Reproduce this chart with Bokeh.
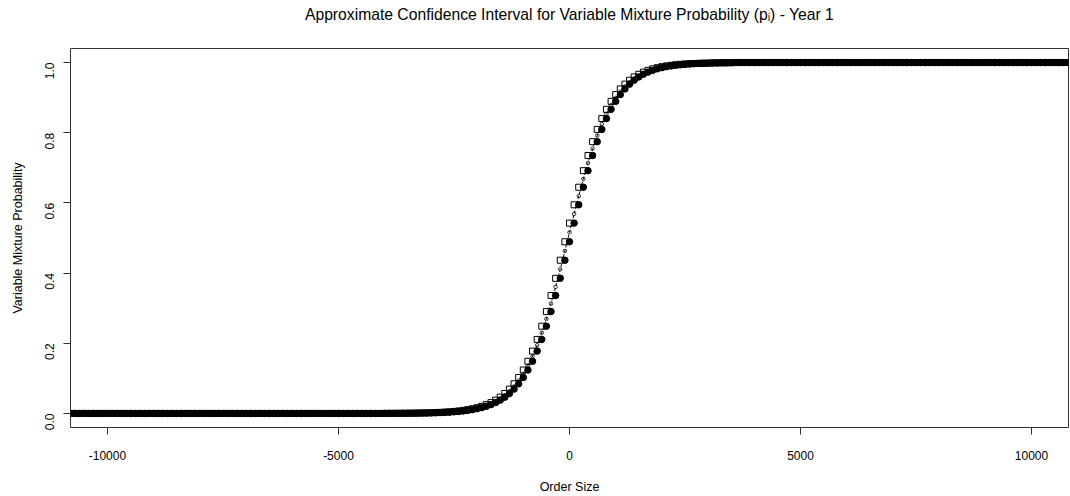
import math
from bokeh.plotting import figure
from bokeh.models import FixedTicker, Range1d, PrintfTickFormatter, ColumnDataSource, Title
from bokeh.embed import file_html
from bokeh.resources import INLINE

# ---------------- data ----------------
title_text = "Approximate Confidence Interval for Variable Mixture Probability (pᵢ) - Year 1"
x_label = "Order Size"
y_label = "Variable Mixture Probability"
x_ticks = [-10000, -5000, 0, 5000, 10000]
y_ticks = [0.0, 0.2, 0.4, 0.6, 0.8, 1.0]

# order sizes: -10800 ... 10800 in steps of 100
order_size = list(range(-10800, 10801, 100))

# flat parts of the curves (x = -10800 ... -4100 and x = 3600 ... 10800)
flat_zero = [
    0, 0, 0, 0, 0, 0, 0, 0, 0, 0,
    0, 0, 0, 0, 0, 0, 0, 0, 0, 0,
    0, 0, 0, 0, 0, 0, 0, 0, 0, 0,
    0, 0, 0, 0, 0, 0, 0, 0, 0, 0,
    0, 0, 0, 0, 0, 0, 0, 0, 0, 0,
    0, 0, 0, 0, 0, 0, 0, 0, 0, 0,
    0, 0, 0, 0, 0, 0, 0, 0,
]
flat_one = [
    1, 1, 1, 1, 1, 1, 1, 1, 1, 1,
    1, 1, 1, 1, 1, 1, 1, 1, 1, 1,
    1, 1, 1, 1, 1, 1, 1, 1, 1, 1,
    1, 1, 1, 1, 1, 1, 1, 1, 1, 1,
    1, 1, 1, 1, 1, 1, 1, 1, 1, 1,
    1, 1, 1, 1, 1, 1, 1, 1, 1, 1,
    1, 1, 1, 1, 1, 1, 1, 1, 1, 1,
    1, 1, 1,
]

# transition region x = -4000 ... 3500 (step 100)
upper_mid = [
    0.0002, 0.0003, 0.0004, 0.0005, 0.0006, 0.0007, 0.0009, 0.0011, 0.0013, 0.0016,
    0.0020, 0.0025, 0.0031, 0.0038, 0.0047, 0.0058, 0.0071, 0.0088, 0.0109, 0.0134,
    0.0165, 0.0204, 0.0251, 0.0309, 0.0379, 0.0465, 0.0569, 0.0694, 0.0845, 0.1025,
    0.1238, 0.1487, 0.1777, 0.2110, 0.2486, 0.2903, 0.3361, 0.3851, 0.4366, 0.4893,
    0.5424, 0.5946, 0.6447, 0.6919, 0.7352, 0.7745, 0.8095, 0.8403, 0.8667, 0.8894,
    0.9087, 0.9249, 0.9384, 0.9496, 0.9589, 0.9665, 0.9727, 0.9778, 0.9820, 0.9854,
    0.9882, 0.9904, 0.9922, 0.9937, 0.9949, 0.9959, 0.9967, 0.9973, 0.9978, 0.9982,
    0.9986, 0.9989, 0.9991, 0.9992, 0.9994, 0.9995,
]
estimate_mid = [
    0.0002, 0.0003, 0.0004, 0.0005, 0.0006, 0.0007, 0.0008, 0.0010, 0.0012, 0.0015,
    0.0018, 0.0022, 0.0028, 0.0035, 0.0043, 0.0052, 0.0065, 0.0080, 0.0098, 0.0121,
    0.0150, 0.0184, 0.0228, 0.0280, 0.0344, 0.0422, 0.0517, 0.0632, 0.0770, 0.0935,
    0.1132, 0.1363, 0.1632, 0.1944, 0.2298, 0.2695, 0.3132, 0.3606, 0.4109, 0.4630,
    0.5159, 0.5685, 0.6197, 0.6683, 0.7136, 0.7549, 0.7920, 0.8249, 0.8535, 0.8781,
    0.8991, 0.9168, 0.9317, 0.9440, 0.9543, 0.9627, 0.9696, 0.9753, 0.9799, 0.9837,
    0.9868, 0.9893, 0.9913, 0.9930, 0.9943, 0.9954, 0.9963, 0.9970, 0.9976, 0.9980,
    0.9984, 0.9988, 0.9990, 0.9992, 0.9993, 0.9995,
]
lower_mid = [
    0.0002, 0.0002, 0.0003, 0.0004, 0.0005, 0.0006, 0.0007, 0.0009, 0.0011, 0.0013,
    0.0016, 0.0020, 0.0025, 0.0031, 0.0038, 0.0047, 0.0058, 0.0071, 0.0088, 0.0109,
    0.0134, 0.0165, 0.0204, 0.0251, 0.0309, 0.0379, 0.0465, 0.0569, 0.0694, 0.0845,
    0.1025, 0.1238, 0.1487, 0.1777, 0.2110, 0.2486, 0.2903, 0.3361, 0.3851, 0.4366,
    0.4893, 0.5424, 0.5946, 0.6447, 0.6919, 0.7352, 0.7745, 0.8095, 0.8403, 0.8667,
    0.8894, 0.9087, 0.9249, 0.9384, 0.9496, 0.9589, 0.9665, 0.9727, 0.9778, 0.9820,
    0.9854, 0.9882, 0.9904, 0.9922, 0.9937, 0.9949, 0.9959, 0.9967, 0.9973, 0.9978,
    0.9982, 0.9986, 0.9989, 0.9991, 0.9992, 0.9994,
]

upper = flat_zero + upper_mid + flat_one
estimate = flat_zero + estimate_mid + flat_one
lower = flat_zero + lower_mid + flat_one

source = ColumnDataSource(dict(x=order_size, upper=upper, estimate=estimate, lower=lower))

# ---------------- figure ----------------
FONT = "Liberation Sans"
p = figure(
    width=1070, height=496,
    x_range=Range1d(-10800, 10800), y_range=Range1d(-0.04, 1.04),
    output_backend="svg", toolbar_location=None,
    min_border_left=70, min_border_right=2, min_border_top=47, min_border_bottom=68,
    background_fill_color="white", border_fill_color="white",
)

# main title (outermost) + an empty spacer title between it and the frame
p.title.text = title_text
p.title.align = "center"
p.title.offset = 8
p.title.standoff = 6
p.title.text_font = FONT
p.title.text_font_size = "15.7px"
p.title.text_font_style = "normal"
p.title.text_color = "#000000"
spacer = Title(text=" ", text_font_size="12px", standoff=7)
p.add_layout(spacer, "above")

p.outline_line_color = "#333333"
p.outline_line_width = 1
p.xgrid.visible = False
p.ygrid.visible = False

for ax in (p.xaxis[0], p.yaxis[0]):
    ax.axis_line_color = None
    ax.major_tick_line_color = "#333333"
    ax.major_tick_out = 7
    ax.major_tick_in = 0
    ax.minor_tick_line_color = None
    ax.major_label_text_font = FONT
    ax.major_label_text_font_size = "12px"
    ax.major_label_text_color = "#000000"
    ax.axis_label_text_font = FONT
    ax.axis_label_text_font_size = "12.5px"
    ax.axis_label_text_font_style = "normal"
    ax.axis_label_text_color = "#000000"

p.xaxis.ticker = FixedTicker(ticks=x_ticks)
p.xaxis.formatter = PrintfTickFormatter(format="%d")
p.xaxis.axis_label = x_label
p.xaxis.major_label_standoff = 16
p.xaxis.axis_label_standoff = 17

p.yaxis.ticker = FixedTicker(ticks=y_ticks)
p.yaxis.formatter = PrintfTickFormatter(format="%.1f")
p.yaxis.major_label_orientation = math.pi / 2
p.yaxis.axis_label = y_label
p.yaxis.major_label_standoff = 14
p.yaxis.axis_label_standoff = 13

# lower bound: filled dots
p.scatter("x", "lower", source=source, marker="circle", size=6.5,
          fill_color="black", line_color="black")
# estimate: dashed line with small open circles
p.line("x", "estimate", source=source, line_color="black", line_width=1, line_dash="3 2")
p.scatter("x", "estimate", source=source, marker="circle", size=3.5,
          fill_color=None, line_color="black", line_width=0.8)
# upper bound: open squares
p.scatter("x", "upper", source=source, marker="square", size=6,
          fill_color=None, line_color="black", line_width=1)

open("out.html", "w").write(file_html(p, INLINE))
